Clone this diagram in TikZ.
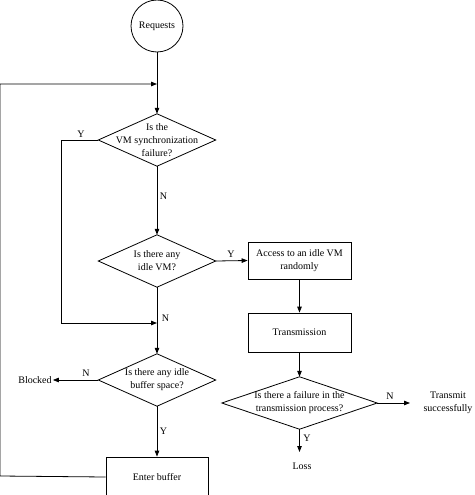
\documentclass[tikz,border=0pt]{standalone}
\usepackage{fontspec}
\setmainfont{Liberation Serif}
\usetikzlibrary{arrows.meta}
\begin{document}
\begin{tikzpicture}[x=1pt,y=-1pt,
  every node/.style={font=\fontsize{10}{13}\selectfont, text=black},
  line/.style={draw=black, line width=0.8pt},
  arr/.style={line, -{Triangle[length=6pt,width=4.5pt]}},
  diam/.style={minimum width=117pt, minimum height=52pt, inner sep=0pt, align=center},
  procbox/.style={line, rectangle, minimum width=103pt, minimum height=37pt, inner sep=0pt, align=center},
  lbl/.style={inner sep=1pt},
  plain/.style={inner sep=1pt, align=center}]
\useasboundingbox (0,0) rectangle (474,495);
\fill[white] (0,0) rectangle (474,495);

% nodes
\node[line, circle, minimum size=52pt, inner sep=0pt] (req) at (157,26) {Requests};
\node[diam] (d1) at (157,140) {Is the\\VM synchronization\\failure?};
\node[diam] (d2) at (157,261) {Is there any\\idle VM?};
\node[diam] (d4) at (157,380) {Is there any idle\\buffer space?};
\node[diam, minimum width=155pt] (d3) at (299.5,403) {Is there a failure in the\\transmission process?};
\node[procbox] (acc) at (299.5,260.5) {Access to an idle VM\\randomly};
\node[procbox, minimum height=39pt] (tr) at (299.5,332.5) {Transmission};
\node[procbox, minimum width=102pt, minimum height=40pt] (buf) at (157,477) {Enter buffer};
\node[plain] (blk) at (35,380) {Blocked};
\node[plain] (ts) at (448,402.5) {Transmit\\successfully};
\node[plain] (loss) at (302,466) {Loss};
\coordinate (j1) at (157,84);
\coordinate (j2) at (157,323);
\coordinate (tsin) at (410,403);
\coordinate (lossin) at (299.5,452);
\coordinate (yl) at (61,140);
\coordinate (fbl) at (0,476);

% diamonds
\foreach \d in {d1,d2,d3,d4}
  \draw[line] (\d.north) -- (\d.east) -- (\d.south) -- (\d.west) -- cycle;

% connectors
\draw[arr] (req.south) -- (d1.north);
\draw[arr] (d1.south) -- (d2.north);
\draw[arr] (d2.south) -- (d4.north);
\draw[arr] (d2.east) -- (acc.west);
\draw[arr] (acc.south) -- (tr.north);
\draw[arr] (tr.south) -- (d3.north);
\draw[arr] (d3.east) -- (tsin);
\draw[arr] (d3.south) -- (lossin);
\draw[arr] (d4.west) -- (blk.east);
\draw[arr] (d4.south) -- (buf.north);
\draw[arr] (d1.west) -- (yl) |- (j2);
\draw[arr] (buf.west) -- (fbl) |- (j1);

% labels
\node[lbl] at (81,134) {Y};
\node[lbl] at (163.5,196) {N};
\node[lbl] at (231,254) {Y};
\node[lbl] at (165.5,318) {N};
\node[lbl] at (86,373) {N};
\node[lbl] at (163.5,431) {Y};
\node[lbl] at (390,396) {N};
\node[lbl] at (307,438) {Y};
\end{tikzpicture}
\end{document}
